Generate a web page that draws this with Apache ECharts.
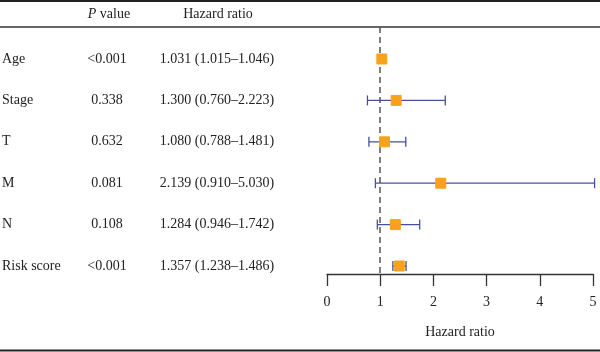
<!DOCTYPE html>
<html><head><meta charset="utf-8">
<script src="https://cdn.jsdelivr.net/npm/echarts@6/dist/echarts.min.js"></script>
<style>html,body{margin:0;padding:0;background:#fff}#c{width:600px;height:352px}</style>
</head><body><div id="c"></div>
<script>
const variables = ['Age','Stage','T','M','N','Risk score'];
const pValues = ['<0.001','0.338','0.632','0.081','0.108','<0.001'];
const hr = [1.031,1.300,1.080,2.139,1.284,1.357];
const lower = [1.015,0.760,0.788,0.910,0.946,1.238];
const upper = [1.046,2.223,1.481,5.030,1.742,1.486];
const xTicks = [0,1,2,3,4,5];

const font = '"Liberation Serif", "DejaVu Serif", serif';
const FS = 14;
const fmt = v => v.toFixed(3);
const hrText = hr.map((v,i)=> fmt(v)+' ('+fmt(lower[i])+'\u2013'+fmt(upper[i])+')');

const chart = echarts.init(document.getElementById('c'), null, {renderer:'canvas'});
const rows = variables.map((v,i)=>i);

chart.setOption({
  animation:false,
  grid:{left:327, right:7, top:27, bottom:78},
  xAxis:{type:'value', min:xTicks[0], max:xTicks[xTicks.length-1], interval:1,
    axisLine:{show:true, onZero:false, lineStyle:{color:'#333', width:1.3}},
    axisTick:{show:true, length:12, lineStyle:{color:'#333', width:1.3}},
    axisLabel:{color:'#222', fontFamily:font, fontSize:FS, margin:21},
    splitLine:{show:false},
    name:'Hazard ratio', nameLocation:'middle', nameGap:51,
    nameTextStyle:{color:'#222', fontFamily:font, fontSize:FS}},
  yAxis:{type:'value', inverse:true, min:-0.773, max:5.193, show:false},
  series:[
    {type:'custom', renderItem:function(params, api){
        const i = api.value(0);
        const p1 = api.coord([api.value(1), i]);
        const p2 = api.coord([api.value(2), i]);
        const h = 5;
        const st = {stroke:'#4a4f9c', lineWidth:1.3};
        return {type:'group', children:[
          {type:'line', shape:{x1:p1[0],y1:p1[1],x2:p2[0],y2:p2[1]}, style:st},
          {type:'line', shape:{x1:p1[0],y1:p1[1]-h,x2:p1[0],y2:p1[1]+h}, style:st},
          {type:'line', shape:{x1:p2[0],y1:p2[1]-h,x2:p2[0],y2:p2[1]+h}, style:st}
        ]};
      },
      data: rows.map(i=>[i, lower[i], upper[i]]), clip:false, z:3,
      markLine:{silent:true, symbol:'none', label:{show:false},
        lineStyle:{color:'#555', type:[6,4], width:1.5},
        data:[{xAxis:1}]}},
    {type:'scatter', symbol:'rect', symbolSize:10,
      itemStyle:{color:'#f8a21c', borderColor:'#f8a21c', opacity:1},
      data: rows.map(i=>[hr[i], i]), z:6},
    {type:'custom', renderItem:function(params, api){
        const i = api.value(0);
        const y = api.coord([0, i])[1];
        const ts = {fill:'#222', font:FS+'px '+font, textVerticalAlign:'middle'};
        return {type:'group', children:[
          {type:'text', x:2, y:y, style:Object.assign({text:variables[i], textAlign:'left'}, ts)},
          {type:'text', x:107, y:y, style:Object.assign({text:pValues[i], textAlign:'center'}, ts)},
          {type:'text', x:217, y:y, style:Object.assign({text:hrText[i], textAlign:'center'}, ts)}
        ]};
      },
      data: rows.map(i=>[i]), clip:false, silent:true}
  ],
  graphic:[
    {type:'line', shape:{x1:0,y1:1,x2:600,y2:1}, style:{stroke:'#222', lineWidth:2}},
    {type:'line', shape:{x1:0,y1:27,x2:600,y2:27}, style:{stroke:'#333', lineWidth:1.3}},
    {type:'line', shape:{x1:0,y1:350.5,x2:600,y2:350.5}, style:{stroke:'#222', lineWidth:2}},
    {type:'text', x:109, y:14, style:{rich:{i:{fontStyle:'italic', fontFamily:font, fontSize:FS, fill:'#222'}, n:{fontFamily:font, fontSize:FS, fill:'#222'}}, text:'{i|P} {n|value}', textAlign:'center', textVerticalAlign:'middle', fill:'#222', font:FS+'px '+font}},
    {type:'text', x:218, y:14, style:{text:'Hazard ratio', textAlign:'center', textVerticalAlign:'middle', fill:'#222', font:FS+'px '+font}}
  ]
});
</script></body></html>
